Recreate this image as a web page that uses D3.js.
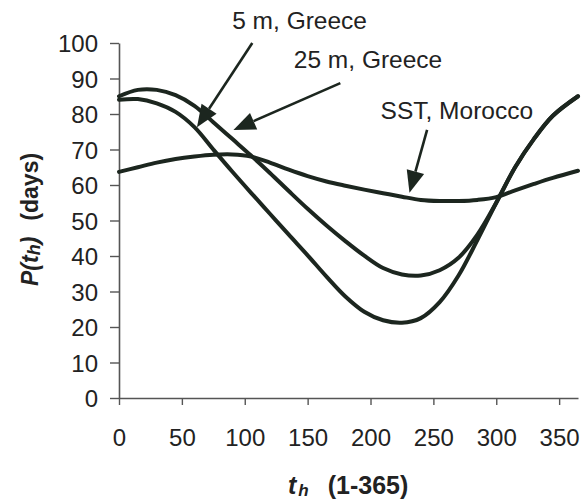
<!DOCTYPE html>
<html>
<head>
<meta charset="utf-8">
<script src="https://cdn.jsdelivr.net/npm/d3@7"></script>
<style>
  html, body { margin: 0; padding: 0; background: #ffffff; }
  svg { display: block; }
  text { font-family: "Liberation Sans", Arial, sans-serif; fill: #222; }
</style>
</head>
<body>
<svg id="chart" width="585" height="503"></svg>
<script>
// Day of year at which each series is sampled
const days = [0, 15, 30, 45, 60, 75, 90, 105, 120, 135, 150, 165, 180, 195, 210, 225, 240, 255, 270, 285, 300, 315, 330, 345, 365];

// Period P(t_h) in days
const period5m  = [84, 84.2, 83, 80.6, 76.3, 70, 63.8, 57.8, 51.9, 46, 40.2, 34.2, 28.6, 24.3, 21.9, 21.2, 22.5, 27, 34.5, 44.5, 55, 65, 73, 79.5, 85];
const period25m = [85, 86.8, 86.8, 85.3, 82.3, 77.7, 73, 68.3, 63.4, 58.3, 53.3, 48.6, 44.2, 40.1, 36.6, 34.8, 34.5, 36, 39.5, 46, 55, 65, 73, 79.5, 85];
const periodSST = [63.7, 65, 66.3, 67.3, 68, 68.5, 68.6, 68, 66.3, 64.3, 62.5, 61, 59.8, 58.7, 57.7, 56.7, 55.8, 55.5, 55.5, 55.8, 56.6, 58.5, 60.3, 62, 64];

const xTicks = [0, 50, 100, 150, 200, 250, 300, 350];
const yTicks = [0, 10, 20, 30, 40, 50, 60, 70, 80, 90, 100];

const calloutText = ["5 m, Greece", "25 m, Greece", "SST, Morocco"];

const svg = d3.select("#chart");
const ink = "#1c261f";

const x = d3.scaleLinear().domain([0, 365]).range([119, 578]);
const y = d3.scaleLinear().domain([0, 100]).range([398, 43]);

// Axes
const yAxis = d3.axisLeft(y).tickValues(yTicks).tickSize(9).tickSizeOuter(0).tickPadding(12);
const xAxis = d3.axisBottom(x).tickValues(xTicks).tickSize(7).tickSizeOuter(0).tickPadding(24);

const gy = svg.append("g").attr("transform", `translate(${x(0)},0)`).call(yAxis);
const gx = svg.append("g").attr("transform", `translate(0,${y(0)})`).call(xAxis);

[gx, gy].forEach(g => {
  g.select(".domain").attr("stroke", "#555").attr("stroke-width", 1.6);
  g.selectAll(".tick line").attr("stroke", "#555").attr("stroke-width", 1.4);
  g.selectAll(".tick text")
    .attr("fill", "#222")
    .style("font-family", '"Liberation Sans", Arial, sans-serif')
    .style("font-size", "24px");
});
gy.selectAll(".tick text").attr("dy", "0.36em");

// Series lines
const line = d3.line()
  .x(d => x(d[0]))
  .y(d => y(d[1]))
  .curve(d3.curveCatmullRom.alpha(0.5));

const series = [
  d3.zip(days, period5m),
  d3.zip(days, period25m),
  d3.zip(days, periodSST)
];

svg.append("g")
  .selectAll("path")
  .data(series)
  .join("path")
  .attr("d", line)
  .attr("fill", "none")
  .attr("stroke", ink)
  .attr("stroke-width", 4)
  .attr("stroke-linejoin", "round")
  .attr("stroke-linecap", "round");

// Callouts: label position, arrow start and arrow tip (day, period)
const callouts = [
  { text: calloutText[0], tx: 90,  ty: 104,  from: [106, 100],  to: [62, 76.3] },
  { text: calloutText[1], tx: 139, ty: 93,   from: [176, 88.7], to: [91, 75.5] },
  { text: calloutText[2], tx: 208, ty: 78.5, from: [245, 75.5], to: [231, 57.8] }
];

callouts.forEach(c => {
  svg.append("text")
    .attr("x", x(c.tx))
    .attr("y", y(c.ty))
    .style("font-size", "24.5px")
    .text(c.text);

  const x0 = x(c.from[0]), y0 = y(c.from[1]);
  const x1 = x(c.to[0]), y1 = y(c.to[1]);
  const ang = Math.atan2(y1 - y0, x1 - x0);
  const len = 22, half = 9;
  const bx = x1 - len * Math.cos(ang), by = y1 - len * Math.sin(ang);
  svg.append("line")
    .attr("x1", x0).attr("y1", y0)
    .attr("x2", bx).attr("y2", by)
    .attr("stroke", ink).attr("stroke-width", 2.6);
  const px = -Math.sin(ang) * half, py = Math.cos(ang) * half;
  svg.append("path")
    .attr("d", `M${x1},${y1}L${bx + px},${by + py}L${bx - px},${by - py}Z`)
    .attr("fill", ink);
});

// Axis titles
const xt = svg.append("text")
  .attr("x", 288)
  .attr("y", 494)
  .style("font-size", "25px")
  .style("font-weight", "bold");
xt.append("tspan").style("font-style", "italic").text("t");
xt.append("tspan").style("font-style", "italic").style("font-size", "17px").attr("dy", 2).attr("dx", 2).text("h");
xt.append("tspan").attr("dy", -2).attr("dx", 19).text("(1-365)");

const yt = svg.append("text")
  .attr("transform", "translate(38,286) rotate(-90)")
  .style("font-size", "23px")
  .style("font-weight", "bold");
yt.append("tspan").style("font-style", "italic").text("P(");
yt.append("tspan").style("font-style", "italic").text("t");
yt.append("tspan").style("font-style", "italic").style("font-size", "18px").attr("dy", 2).text("h");
yt.append("tspan").style("font-style", "italic").attr("dy", -2).text(")");
yt.append("tspan").attr("dx", 16).text("(days)");
</script>
</body>
</html>
